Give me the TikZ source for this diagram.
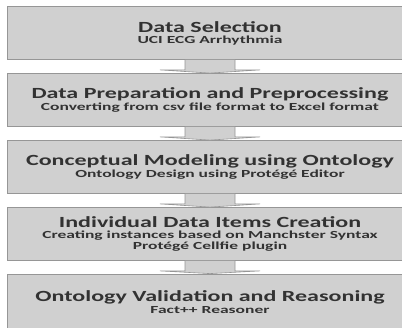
\documentclass[tikz,border=0pt]{standalone}
\usepackage{fontspec}
\setmainfont{Carlito}
\usepackage{graphicx}
\usetikzlibrary{calc}

\definecolor{boxgray}{RGB}{208,208,208}
\definecolor{edgegray}{RGB}{150,150,150}
\definecolor{textgray}{RGB}{50,50,50}

\newcommand{\stagetitle}[1]{\scalebox{1.55}[1]{\fontsize{15.5}{15.5}\selectfont\bfseries #1}}
\newcommand{\stagesub}[1]{\scalebox{1.62}[1]{\fontsize{10.8}{11}\selectfont\bfseries #1}}

\tikzset{
  stage/.style={draw=edgegray, fill=boxgray, line width=0.8pt, minimum width=406pt,
    minimum height=53pt, inner sep=0pt, align=center, text=textgray,
    font=\fontsize{10.8}{11.2}\selectfont,
    path picture={\draw[black!48, line width=2pt] (path picture bounding box.north west)
      -- (path picture bounding box.south west);}},
  stagearrow/.style={draw=edgegray, fill=boxgray, line width=0.6pt,
    to path={($(\tikztostart)+(-25,0)$) -- ($(\tikztostart)+(-25,10)$)
      -- ($(\tikztostart)+(-50,10)$) -- (\tikztotarget)
      -- ($(\tikztostart)+(50,10)$) -- ($(\tikztostart)+(25,10)$)
      -- ($(\tikztostart)+(25,0)$)}}
}

\begin{document}
\begin{tikzpicture}[x=1pt,y=-1pt]
\clip (0,0) rectangle (402,327);
\fill[white] (0,0) rectangle (402,327);
% five stages
\node[stage] (sel) at (210,33) {\stagetitle{Data Selection}\\\stagesub{UCI ECG Arrhythmia}};
\node[stage] (prep) at (210,100) {\stagetitle{Data Preparation and Preprocessing}\\\stagesub{Converting from csv file format to Excel format}};
\node[stage] (onto) at (210,167) {\stagetitle{Conceptual Modeling using Ontology}\\\stagesub{Ontology Design using Protégé Editor}};
\node[stage] (items) at (210,234) {\stagetitle{Individual Data Items Creation}\\\stagesub{Creating instances based on Manchster Syntax}\\\stagesub{Protégé Cellfie plugin}};
\node[stage, minimum height=56pt] (valid) at (210,302) {\stagetitle{Ontology Validation and Reasoning}\\\stagesub{Fact++ Reasoner}};
% arrows between them
\draw[stagearrow] (sel.south) to (prep.north);
\draw[stagearrow] (prep.south) to (onto.north);
\draw[stagearrow] (onto.south) to (items.north);
\draw[stagearrow] (items.south) to (valid.north);
\end{tikzpicture}
\end{document}
